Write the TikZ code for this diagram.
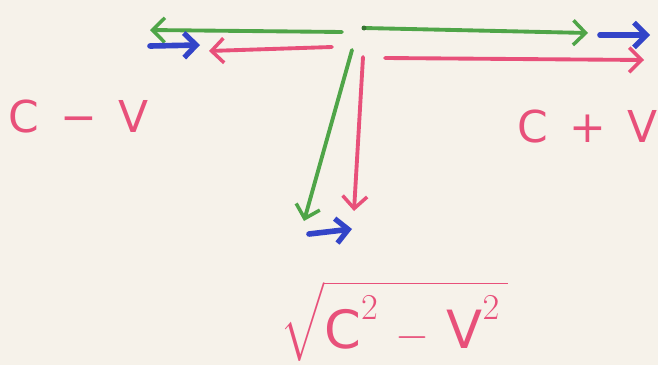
\documentclass[tikz,border=0pt]{standalone}
\usepackage{amsmath}
\usepackage{fontspec}
\setsansfont{DejaVu Sans}
\usetikzlibrary{arrows.meta}
\definecolor{kagit}{HTML}{F6F2EA}
\definecolor{yesil}{HTML}{4FA548}
\definecolor{pembe}{HTML}{E8507A}
\definecolor{mavi}{HTML}{3344C8}
\tikzset{
  vek/.style={line width=2.2pt,line cap=round,-{Straight Barb[length=7pt,width=14pt,line width=2pt]}},
  kalin/.style={line width=3.2pt,-{Straight Barb[length=7pt,width=14pt,line width=3pt]}},
  etiket/.style={pembe,font=\sffamily\fontsize{25}{29}\selectfont}
}
\begin{document}
\begin{tikzpicture}[x=0.02cm,y=-0.02cm]
\useasboundingbox (0,0) rectangle (658,365);
\fill[kagit] (0,0) rectangle (658,365);
\coordinate (O) at (364,28);
% ust yatay vektorler
\draw[vek,yesil] (O) -- (588,33);
\draw[vek,yesil] (342,32) -- (150,30);
\fill[yesil!70!black] (O) circle (2.5);
\draw[vek,kalin,mavi] (600,35) -- (650,35);
\draw[vek,kalin,mavi] (150,46) -- (200,45);
\draw[vek,pembe] (385,58) -- (644,60);
\draw[vek,pembe] (332,47) -- (209,51);
% asagi vektorler
\draw[vek,yesil] (352,50) -- (304,221);
\draw[vek,pembe] (363,57) -- (354,211);
\draw[vek,kalin,mavi] (309,234) -- (352,229);
% etiketler
\node[etiket] (cmv) at (79,117) {C\, − \,V};
\node[etiket] (cpv) at (588,127) {C\, + \,V};
\node[pembe,font=\fontsize{30}{34}\selectfont] (kok) at (394,321) {$\sqrt{\mathsf{C}^2 \,-\, \mathsf{V}^2\,}$};
\end{tikzpicture}
\end{document}
